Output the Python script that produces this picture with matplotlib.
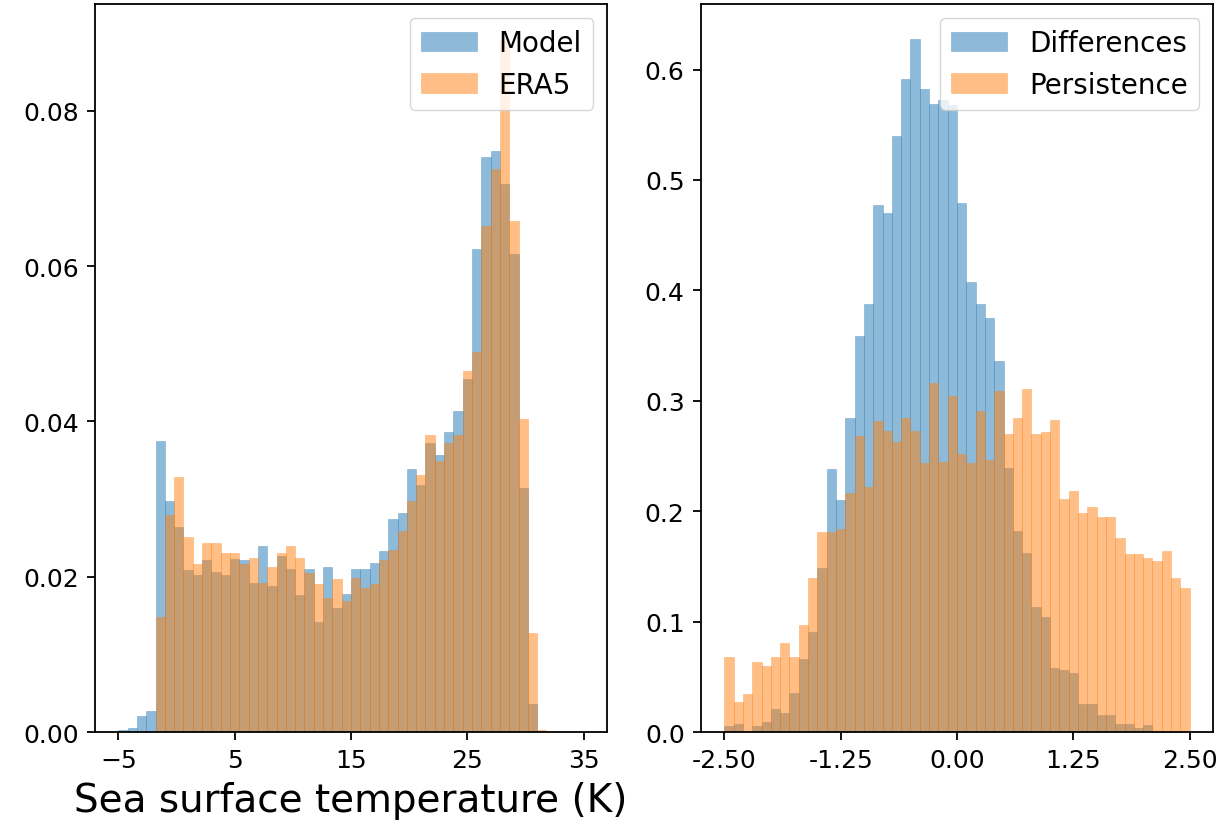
import numpy as np
import matplotlib
matplotlib.use("Agg")
import matplotlib.pyplot as plt

# left panel: sea surface temperature histograms (density per bin, 50 bins of 0.8 K)
sst_lo, sst_hi, sst_nbins = -5.0, 35.0, 50
model_hist = [0.0003, 0.0005, 0.0020, 0.0027, 0.0375, 0.0298, 0.0264, 0.0209, 0.0202, 0.0221,
              0.0206, 0.0202, 0.0223, 0.0221, 0.0192, 0.0239, 0.0188, 0.0227, 0.0210, 0.0176,
              0.0210, 0.0142, 0.0213, 0.0160, 0.0178, 0.0210, 0.0210, 0.0218, 0.0233, 0.0274,
              0.0282, 0.0339, 0.0318, 0.0372, 0.0357, 0.0386, 0.0414, 0.0455, 0.0622, 0.0740,
              0.0748, 0.0706, 0.0615, 0.0314, 0.0036, 0.0, 0.0, 0.0, 0.0, 0.0]
era5_hist = [0.0, 0.0, 0.0, 0.0, 0.0148, 0.0280, 0.0329, 0.0251, 0.0217, 0.0243,
             0.0243, 0.0231, 0.0231, 0.0217, 0.0224, 0.0192, 0.0213, 0.0231, 0.0239, 0.0224,
             0.0205, 0.0190, 0.0173, 0.0197, 0.0169, 0.0199, 0.0186, 0.0190, 0.0221, 0.0235,
             0.0259, 0.0298, 0.0331, 0.0382, 0.0349, 0.0372, 0.0382, 0.0465, 0.0489, 0.0652,
             0.0725, 0.0893, 0.0658, 0.0403, 0.0127, 0.0003, 0.0, 0.0, 0.0, 0.0]
sst_ticks = [-5, 5, 15, 25, 35]

# right panel: differences vs persistence
err_lo, err_hi, err_nbins = -2.5, 2.5, 50
diff_hist = [0.0057, 0.0073, 0.0, 0.0057, 0.0091, 0.0206, 0.0175, 0.035, 0.0663, 0.0905,
             0.149, 0.238, 0.2097, 0.284, 0.3588, 0.388, 0.4777, 0.47, 0.5398, 0.5918,
             0.628, 0.582, 0.569, 0.5728, 0.568, 0.479, 0.408, 0.388, 0.3746, 0.3358,
             0.239, 0.1825, 0.1625, 0.1135, 0.104, 0.0581, 0.0563, 0.0533, 0.0251, 0.0251,
             0.0154, 0.0154, 0.0073, 0.0073, 0.004, 0.006, 0.0, 0.0, 0.0, 0.0]
pers_hist = [0.068, 0.0275, 0.0345, 0.0633, 0.0596, 0.068, 0.081, 0.068, 0.097, 0.1398,
             0.181, 0.181, 0.184, 0.2167, 0.268, 0.2218, 0.282, 0.273, 0.2627, 0.284,
             0.273, 0.244, 0.316, 0.245, 0.304, 0.252, 0.244, 0.291, 0.2466, 0.309,
             0.2696, 0.284, 0.311, 0.2696, 0.2714, 0.2823, 0.2112, 0.2181, 0.1988, 0.204,
             0.1952, 0.1952, 0.1755, 0.1613, 0.1613, 0.1577, 0.1552, 0.1643, 0.1398, 0.1307]
err_ticks = [-2.5, -1.25, 0.0, 1.25, 2.5]

TICK_FS = 18
LEG_FS = 20

fig = plt.figure(figsize=(12.23, 8.28), dpi=100)
ax1 = fig.add_axes([0.0777, 0.1147, 0.4186, 0.8793])
ax2 = fig.add_axes([0.5732, 0.1147, 0.4186, 0.8793])


def draw_pair(ax, edges, first, second, labels):
    mid = (edges[:-1] + edges[1:]) / 2
    ax.hist(mid, bins=edges, weights=first, alpha=0.5, label=labels[0],
            edgecolor="C0", linewidth=0.4)
    ax.hist(mid, bins=edges, weights=second, alpha=0.5, label=labels[1],
            edgecolor="C1", linewidth=0.4)


draw_pair(ax1, np.linspace(sst_lo, sst_hi, sst_nbins + 1), model_hist, era5_hist, ["Model", "ERA5"])
ax1.set_xticks(sst_ticks)
ax1.set_yticks([0.0, 0.02, 0.04, 0.06, 0.08])
ax1.yaxis.set_major_formatter(plt.FormatStrFormatter("%.2f"))
ax1.set_xlabel("Sea surface temperature (K)", fontsize=28, labelpad=6)

draw_pair(ax2, np.linspace(err_lo, err_hi, err_nbins + 1), diff_hist, pers_hist, ["Differences", "Persistence"])
ax2.set_xticks(err_ticks)
ax2.xaxis.set_major_formatter(plt.FormatStrFormatter("%.2f"))
ax2.yaxis.set_major_formatter(plt.FormatStrFormatter("%.1f"))

for ax in (ax1, ax2):
    ax.tick_params(labelsize=TICK_FS, length=5.8, width=1.3, pad=6)
    ax.legend(loc="upper right", fontsize=LEG_FS)
    for sp in ax.spines.values():
        sp.set_linewidth(1.3)

fig.savefig("out.png", dpi=100)
